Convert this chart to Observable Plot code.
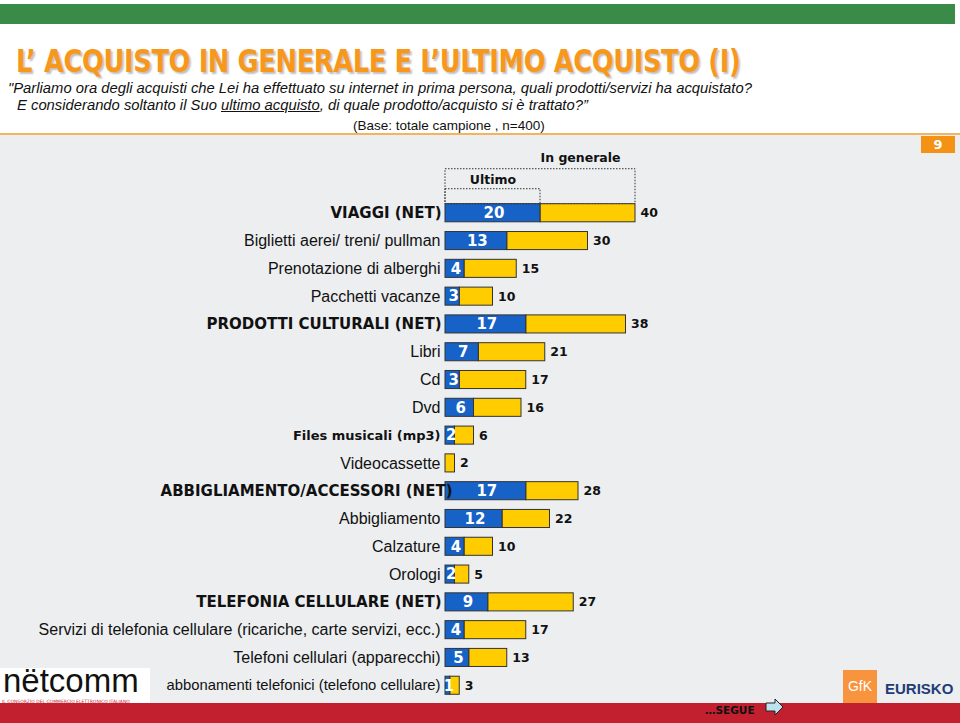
<!DOCTYPE html>
<html>
<head>
<meta charset="utf-8">
<script src="https://cdn.jsdelivr.net/npm/d3@7"></script>
<script src="https://cdn.jsdelivr.net/npm/@observablehq/plot@0.6"></script>
<style>
  html, body { margin: 0; padding: 0; background: #fff; }
  #page { position: relative; width: 960px; height: 723px; overflow: hidden; background: #fff; font-family: "DejaVu Sans", sans-serif; }
  .abs { position: absolute; white-space: nowrap; }
  #green { left: 0; top: 4px; width: 955px; height: 20px; background: #3a8b48; }
  #title { left: 16px; top: 46px; height: 30px; line-height: 30px; font-family: "DejaVu Sans", sans-serif; font-weight: bold; font-size: 32px; color: #f7981d; text-shadow: 2px 2px 2px rgba(0,0,0,0.25); letter-spacing: -0.5px; transform: scaleX(0.805); transform-origin: left top; }
  .q { font-family: "Liberation Sans", sans-serif; font-style: italic; font-size: 14.8px; line-height: 17px; color: #111; }
  #base { left: 353px; top: 118px; font-family: "Liberation Sans", sans-serif; font-size: 13.5px; color: #111; }
  #orange { left: 0; top: 133px; width: 960px; height: 2px; background: #f2b45c; }
  #gray { left: 0; top: 135px; width: 960px; height: 568px; background: #eceef0; }
  #badge { left: 921px; top: 136px; width: 34px; height: 17px; background: #f39214; color: #fff; font-weight: bold; font-size: 13px; text-align: center; line-height: 17px; }
  #chart { left: 0; top: 135px; }
  #red { left: 0; top: 703px; width: 960px; height: 20px; background: #c3202f; }
  #segue { left: 705px; top: 704px; font-weight: bold; font-size: 10.5px; color: #111; }
  #arrow { left: 765px; top: 697px; }
  #netcomm { left: 0; top: 668px; width: 150px; height: 35px; background: #fff; }
  #netcomm .n { position: absolute; left: 3px; top: -1px; height: 28px; line-height: 28px; font-family: "Liberation Sans", sans-serif; font-size: 33px; color: #111; }
  #netcomm .s { position: absolute; left: 2px; top: 31px; line-height: 5px; font-size: 4.5px; color: #c3202f; }
  #gfk { left: 843px; top: 670px; width: 34px; height: 33px; background: #f7943d; color: #fff; font-size: 14px; line-height: 33px; text-align: center; font-family: "Liberation Sans", sans-serif; }
  #eurisko { left: 885px; top: 680px; font-family: "Liberation Sans", sans-serif; font-weight: bold; font-size: 15px; color: #1f3c78; }
</style>
</head>
<body>
<div id="page">
  <div class="abs" id="green"></div>
  <div class="abs" id="title">L’ ACQUISTO IN GENERALE E L’ULTIMO ACQUISTO (I)</div>
  <div class="abs q" style="left:8px; top:80px;">"Parliamo ora degli acquisti che Lei ha effettuato su internet in prima persona, quali prodotti/servizi ha acquistato?</div>
  <div class="abs q" style="left:17px; top:97px;">E considerando soltanto il Suo <u>ultimo acquisto</u>, di quale prodotto/acquisto si è trattato?”</div>
  <div class="abs" id="base">(Base: totale campione , n=400)</div>
  <div class="abs" id="orange"></div>
  <div class="abs" id="gray"></div>
  <div class="abs" id="badge">9</div>
  <div class="abs" id="chart"></div>
  <div class="abs" id="red"></div>
  <div class="abs" id="segue">…SEGUE</div>
  <svg class="abs" id="arrow" width="20" height="20"><path d="M1,6 H10 V2 L18,10 L10,18 V14 H1 Z" fill="#bfe3ee" stroke="#222" stroke-width="1"/></svg>
  <div class="abs" id="netcomm"><span class="n">nëtcomm</span><span class="s">IL CONSORZIO DEL COMMERCIO ELETTRONICO ITALIANO</span></div>
  <div class="abs" id="gfk">GfK</div>
  <div class="abs" id="eurisko">EURISKO</div>
</div>
<script>
const categories = [
  "VIAGGI (NET)",
  "Biglietti aerei/ treni/ pullman",
  "Prenotazione di alberghi",
  "Pacchetti vacanze",
  "PRODOTTI CULTURALI (NET)",
  "Libri",
  "Cd",
  "Dvd",
  "Files musicali (mp3)",
  "Videocassette",
  "ABBIGLIAMENTO/ACCESSORI (NET)",
  "Abbigliamento",
  "Calzature",
  "Orologi",
  "TELEFONIA CELLULARE (NET)",
  "Servizi di telefonia cellulare (ricariche, carte servizi, ecc.)",
  "Telefoni cellulari (apparecchi)",
  "abbonamenti telefonici (telefono cellulare)"
];
const ultimo   = [20, 13, 4, 3, 17, 7, 3, 6, 2, 0, 17, 12, 4, 2, 9, 4, 5, 1];
const generale = [40, 30, 15, 10, 38, 21, 17, 16, 6, 2, 28, 22, 10, 5, 27, 17, 13, 3];
const boldLabels = ["VIAGGI (NET)", "PRODOTTI CULTURALI (NET)", "TELEFONIA CELLULARE (NET)"];
const overlapLabels = ["ABBIGLIAMENTO/ACCESSORI (NET)"];
const boldSmallLabels = ["Files musicali (mp3)"];
const smallLabels = ["abbonamenti telefonici (telefono cellulare)"];
const seriesNames = ["Ultimo", "In generale"];

const rows = categories.map((c, i) => ({cat: c, u: ultimo[i], g: generale[i]}));
const first = rows[0];
const special = [...boldLabels, ...overlapLabels, ...boldSmallLabels, ...smallLabels];
const regular = rows.filter(d => !special.includes(d.cat));
const pick = list => rows.filter(d => list.includes(d.cat));

const blue = "#1762c6", yellow = "#ffcc00", edge = "#333";

const chart = Plot.plot({
  width: 960,
  height: 570,
  marginLeft: 445,
  marginRight: 40,
  marginTop: 59,
  marginBottom: 1,
  style: {background: "transparent", fontFamily: "DejaVu Sans, sans-serif"},
  x: {domain: [0, 100], axis: null},
  y: {domain: categories, axis: null, padding: 0.35, round: false},
  marks: [
    // dotted brackets above the first row
    Plot.rectX([first], {x1: 0, x2: "g", y: "cat", insetTop: -35, insetBottom: 18, fill: "none", stroke: edge, strokeDasharray: "1.5,1.5", strokeWidth: 1}),
    Plot.rectX([first], {x1: 0, x2: "u", y: "cat", insetTop: -15, insetBottom: 18, fill: "none", stroke: edge, strokeDasharray: "1.5,1.5", strokeWidth: 1}),
    Plot.text([first], {x: d => d.u / 2, y: "cat", text: () => seriesNames[0], dy: -33, fontWeight: "bold", fontSize: 12.5, fill: "#111"}),
    Plot.text([first], {x: "u", y: "cat", text: () => seriesNames[1], dy: -55, textAnchor: "start", fontWeight: "bold", fontSize: 12.5, fill: "#111"}),
    // category labels
    Plot.text(regular, {x: 0, y: "cat", text: "cat", dx: -5, textAnchor: "end", fill: "#111", fontSize: 16, fontFamily: "Liberation Sans, sans-serif"}),
    Plot.text(pick(smallLabels), {x: 0, y: "cat", text: "cat", dx: -5, textAnchor: "end", fill: "#111", fontSize: 14.8, fontFamily: "Liberation Sans, sans-serif"}),
    Plot.text(pick(boldSmallLabels), {x: 0, y: "cat", text: "cat", dx: -5, textAnchor: "end", fill: "#111", fontSize: 13, fontWeight: "bold"}),
    Plot.text(pick(boldLabels), {x: 0, y: "cat", text: "cat", dx: -4, textAnchor: "end", fill: "#111", fontSize: 15, fontWeight: "bold"}),
    // bars
    Plot.barX(rows.filter(d => d.g > d.u), {x1: "u", x2: "g", y: "cat", fill: yellow, stroke: edge, strokeWidth: 1}),
    Plot.barX(rows.filter(d => d.u > 0), {x1: 0, x2: "u", y: "cat", fill: blue, stroke: edge, strokeWidth: 1}),
    // labels inside blue
    Plot.text(rows.filter(d => d.u > 0), {x: d => d.u / 2, y: "cat", text: "u", fill: "#fff", fontWeight: "bold", fontSize: 15, dx: 1}),
    // generale labels
    Plot.text(rows, {x: "g", y: "cat", text: "g", dx: 5, textAnchor: "start", fill: "#111", fontWeight: "bold", fontSize: 12.5}),
    // long group label that runs onto the bar, as in the original
    Plot.text(pick(overlapLabels), {x: 0, y: "cat", text: "cat", dx: 7, textAnchor: "end", fill: "#111", fontSize: 15, fontWeight: "bold"})
  ]
});
document.getElementById("chart").appendChild(chart);
</script>
</body>
</html>
